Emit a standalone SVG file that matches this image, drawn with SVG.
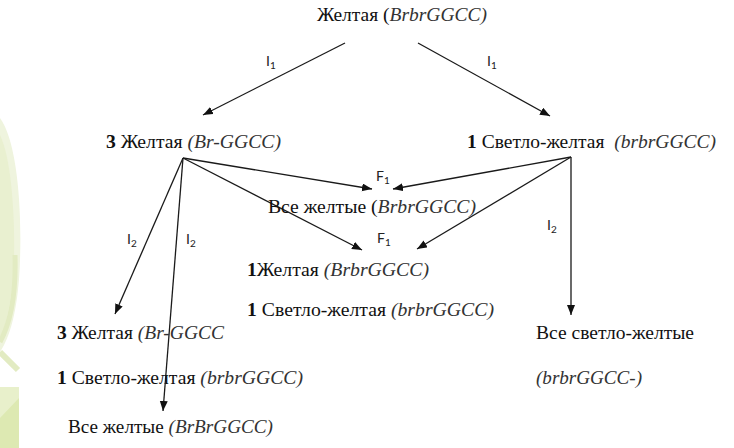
<svg xmlns="http://www.w3.org/2000/svg" width="734" height="448" viewBox="0 0 734 448">
<defs>
<marker id="ah" markerUnits="userSpaceOnUse" markerWidth="12" markerHeight="10" refX="10" refY="4" orient="auto">
<path d="M0,0 L10,4 L0,8 Z" fill="#111"/>
</marker>
<style>
.t{font-size:18px;fill:#111}
.i{font-style:italic;fill:#333}
.b{font-weight:bold}
.lb{font-family:Lato,'Open Sans',sans-serif;font-size:14px;fill:#222}
.s{font-size:10px}
.c line{stroke:#1a1a1a;stroke-width:1.3;marker-end:url(#ah)}
</style>
</defs>
<rect width="734" height="448" fill="#fff"/>
<g id="bg">
<path d="M0,118 C16,140 22,200 20,260 C19,300 12,335 0,352 Z" fill="#eff4de"/>
<path d="M0,135 C12,160 15,220 14,260 C13,290 8,320 0,340 Z" fill="#e9f0d0"/>
<path d="M15,255 C16,290 12,320 0,342" fill="none" stroke="#e2ebc2" stroke-width="5"/>
<path d="M0,352 L18,370" fill="none" stroke="#e2ebc2" stroke-width="6"/>
<rect x="0" y="387" width="19" height="61" fill="#dde9b2"/>
<path d="M0,387 L19,387 L19,398 L0,418 Z" fill="#e8f0cb"/>
</g>
<g id="connectors" class="c">
<line x1="345" y1="43" x2="203" y2="115"/>
<line x1="418" y1="43" x2="550" y2="116"/>
<line x1="183" y1="158" x2="115" y2="314"/>
<line x1="183" y1="158" x2="163" y2="411"/>
<line x1="183" y1="158" x2="372" y2="189"/>
<line x1="183" y1="158" x2="362" y2="250"/>
<line x1="571" y1="157" x2="393" y2="189"/>
<line x1="571" y1="157" x2="417" y2="249"/>
<line x1="571" y1="157" x2="571" y2="315"/>
</g>
<g id="labels">
<text class="lb" x="266" y="66">I<tspan class="s" dy="3">1</tspan></text>
<text class="lb" x="487" y="66">I<tspan class="s" dy="3">1</tspan></text>
<text class="lb" x="127" y="244">I<tspan class="s" dy="3">2</tspan></text>
<text class="lb" x="186" y="244">I<tspan class="s" dy="3">2</tspan></text>
<text class="lb" x="547" y="230">I<tspan class="s" dy="3">2</tspan></text>
<text class="lb" x="376" y="181">F<tspan class="s" dy="3">1</tspan></text>
<text class="lb" x="377" y="243">F<tspan class="s" dy="3">1</tspan></text>
</g>
<g font-family="Liberation Serif, Tinos, Noto Serif, DejaVu Serif, Times New Roman, Times, serif">
<g id="n-parent"><text class="t" x="317" y="21" textLength="170" lengthAdjust="spacingAndGlyphs">Желтая (<tspan class="i">BrbrGGCC)</tspan></text></g>
<g id="n-yellow3"><text class="t" x="106" y="148" textLength="175" lengthAdjust="spacingAndGlyphs"><tspan class="b">3</tspan> Желтая <tspan class="i">(Br-GGCC)</tspan></text></g>
<g id="n-light1"><text class="t" x="467" y="148" textLength="249" lengthAdjust="spacingAndGlyphs" xml:space="preserve"><tspan class="b">1</tspan> Светло-желтая  <tspan class="i">(brbrGGCC)</tspan></text></g>
<g id="n-f1a"><text class="t" x="268" y="213" textLength="208" lengthAdjust="spacingAndGlyphs">Все желтые (<tspan class="i">BrbrGGCC)</tspan></text></g>
<g id="n-f1b">
<text class="t" x="247" y="276" textLength="182" lengthAdjust="spacingAndGlyphs"><tspan class="b">1</tspan>Желтая <tspan class="i">(BrbrGGCC)</tspan></text>
<text class="t" x="247" y="316" textLength="247" lengthAdjust="spacingAndGlyphs"><tspan class="b">1</tspan> Светло-желтая <tspan class="i">(brbrGGCC)</tspan></text>
</g>
<g id="n-i2a">
<text class="t" x="57" y="339" textLength="167" lengthAdjust="spacingAndGlyphs"><tspan class="b">3</tspan> Желтая <tspan class="i">(Br-GGCC</tspan></text>
<text class="t" x="57" y="384" textLength="246" lengthAdjust="spacingAndGlyphs"><tspan class="b">1</tspan> Светло-желтая <tspan class="i">(brbrGGCC)</tspan></text>
</g>
<g id="n-i2b"><text class="t" x="68" y="433" textLength="205" lengthAdjust="spacingAndGlyphs">Все желтые <tspan class="i">(BrBrGGCC)</tspan></text></g>
<g id="n-i2c">
<text class="t" x="536" y="339" textLength="158" lengthAdjust="spacingAndGlyphs">Все светло-желтые</text>
<text class="t" x="536" y="384" textLength="106" lengthAdjust="spacingAndGlyphs"><tspan class="i">(brbrGGCC-)</tspan></text>
</g>
</g>
</svg>
